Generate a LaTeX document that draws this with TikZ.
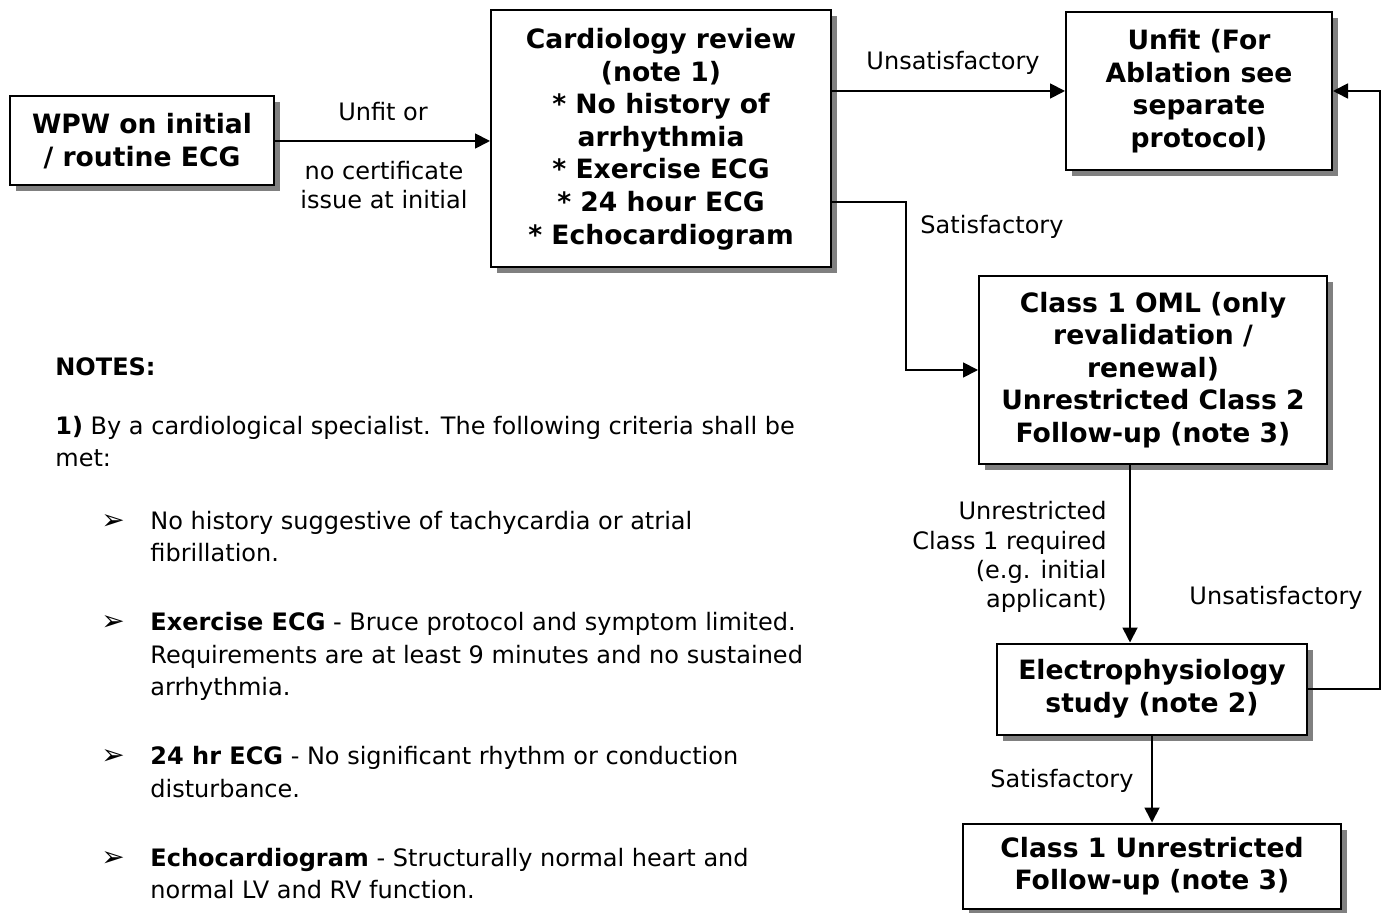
\documentclass[tikz,border=0pt]{standalone}
\usepackage{fontspec}
\setmainfont{DejaVu Sans}
\usepackage{tikz}
\usetikzlibrary{positioning}
\usetikzlibrary{shadows}
\usetikzlibrary{arrows.meta}
\tikzset{
    mybox/.style = {draw=black, line width=1pt, fill=white, align=center, inner sep=0pt,
        font=\fontsize{13.3}{16.3}\selectfont\bfseries,
        drop shadow={shadow xshift=3pt, shadow yshift=-3pt, fill=gray, opacity=1}},
    mylabel/.style = {align=center, inner sep=0pt, font=\fontsize{12}{14.6}\selectfont},
    mynote/.style = {anchor=base west, inner sep=0pt, font=\fontsize{12}{16}\selectfont},
    mybullet/.style = {anchor=base west, inner sep=0pt, font=\fontsize{14}{16}\selectfont},
    arr/.style = {-{Triangle[length=7.5pt,width=7.5pt]}, line width=0.9pt},
}

\begin{document}
\begin{tikzpicture}[x=0.5pt, y=-0.5pt]
\useasboundingbox (0,0) rectangle (1385,913);
% boxes
\node[mybox, minimum width=132pt, minimum height=44.5pt] at (142,141) (wpw) {WPW on initial\\/ routine ECG};
\node[mybox, minimum width=170pt, minimum height=128.5pt] at (661,139) (card) {Cardiology review\\(note 1)\\* No history of\\arrhythmia\\* Exercise ECG\\* 24 hour ECG\\* Echocardiogram};
\node[mybox, minimum width=133pt, minimum height=79pt] at (1199,91) (unfit) {Unfit (For\\Ablation see\\separate\\protocol)};
\node[mybox, minimum width=174pt, minimum height=94pt] at (1153,370) (oml) {Class 1 OML (only\\revalidation /\\renewal)\\Unrestricted Class 2\\Follow-up (note 3)};
\node[mybox, minimum width=155pt, minimum height=45.5pt] at (1152,689) (elec) {Electrophysiology\\study (note 2)};
\node[mybox, minimum width=189pt, minimum height=42.5pt] at (1152,866) (cls) {Class 1 Unrestricted\\Follow-up (note 3)};
% turning points
\coordinate (s1) at (906,202);
\coordinate (d1) at (1130,560);
\coordinate (r1) at (1380,400);
% connectors
\draw[arr] (wpw.east) -- (card.west |- wpw.east);
\draw[arr] (card.east |- unfit.west) -- (unfit.west);
\draw[arr] (card.east |- s1) -- (s1) |- (oml.west);
\draw[arr] (oml.south -| d1) -- (elec.north -| d1);
\draw[arr] (elec.east) -- (elec.east -| r1) -- (unfit.east -| r1) -- (unfit.east);
\draw[arr] (elec.south) -- (cls.north);
% connector labels
\node[mylabel] at (383,112) (l1) {Unfit or};
\node[mylabel] at (384,185) (l2) {no certificate\\issue at initial};
\node[mylabel] at (953,63) (l3) {Unsatisfactory};
\node[mylabel] at (992,227) (l4) {Satisfactory};
\node[mylabel, align=right, anchor=east] at (1107,557) (l5) {Unrestricted\\Class 1 required\\(e.g. initial\\applicant)};
\node[mylabel] at (1276,598) (l6) {Unsatisfactory};
\node[mylabel] at (1062,781) (l7) {Satisfactory};
% notes
\node[mynote] at (55,376) (n0) {\textbf{NOTES:}};
\node[mynote] at (55,435) (n1) {\textbf{1)} By a cardiological specialist. The following criteria shall be};
\node[mynote] at (55,467) (n1b) {met:};
\node[mybullet] at (101,530) (b1) {➢};
\node[mynote] at (150,530) (t1) {No history suggestive of tachycardia or atrial};
\node[mynote] at (150,562) (t1b) {fibrillation.};
\node[mybullet] at (101,631) (b2) {➢};
\node[mynote] at (150,631) (t2) {\textbf{Exercise ECG} - Bruce protocol and symptom limited.};
\node[mynote] at (150,663) (t2b) {Requirements are at least 9 minutes and no sustained};
\node[mynote] at (150,695) (t2c) {arrhythmia.};
\node[mybullet] at (101,764) (b3) {➢};
\node[mynote] at (150,764) (t3) {\textbf{24 hr ECG} - No significant rhythm or conduction};
\node[mynote] at (150,797) (t3b) {disturbance.};
\node[mybullet] at (101,866) (b4) {➢};
\node[mynote] at (150,866) (t4) {\textbf{Echocardiogram} - Structurally normal heart and};
\node[mynote] at (150,898) (t4b) {normal LV and RV function.};
\end{tikzpicture}
\end{document}
